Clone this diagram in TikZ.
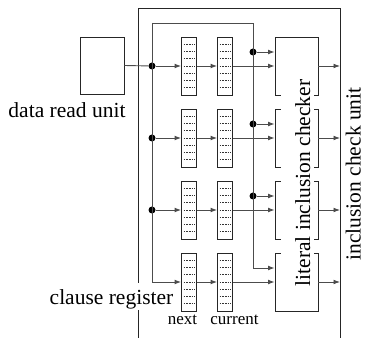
\documentclass[tikz,border=0pt]{standalone}
\usepackage{fontspec}
\setmainfont{Liberation Serif}
\newfontfamily\diagserif{Liberation Serif}
\usetikzlibrary{arrows.meta,calc}
\begin{document}
\begin{tikzpicture}[x=1pt,y=1pt,
  conn/.style={draw=black!70, line width=0.9pt},
  arr/.style={conn, -{Latex[length=6.5pt,width=4.8pt]}},
  frame/.style={draw=black!85, line width=0.8pt},
  regdots/.style={draw=black!80, line width=0.5pt, dash pattern=on 1.6pt off 1.1pt},
  reg/.style={draw=black!85, line width=0.8pt, minimum width=15pt, minimum height=58pt, inner sep=0pt,
    path picture={\foreach \k in {1,...,7}{\draw[regdots]
      ($(path picture bounding box.north west)!\k/8!(path picture bounding box.south west)+(2,0)$) --
      ($(path picture bounding box.north east)!\k/8!(path picture bounding box.south east)+(-2,0)$);}}},
  chk/.style={draw=black!85, line width=0.8pt, minimum width=43pt, minimum height=58pt, inner sep=0pt},
  unitbox/.style={draw=black!85, line width=0.8pt, minimum width=44pt, minimum height=57pt, inner sep=0pt},
  dot/.style={circle, fill=black, inner sep=0pt, minimum size=7pt},
  big/.style={font=\diagserif\fontsize{21.5}{24}\selectfont, inner sep=0pt},
  small/.style={font=\diagserif\fontsize{17}{20}\selectfont, inner sep=0pt},
]
\useasboundingbox (0,0) rectangle (365,338);

% outer frame of the inclusion check unit
\draw[frame] (138,0) -- (138,330) -- (340,330) -- (340,0);
\coordinate (R) at (340,0);

% data read unit
\node[unitbox] (dru) at (102,272.5) {};
\node[big, anchor=base] (drulabel) at (67,220.5) {data read unit};

% rows
\foreach \i/\y in {1/272,2/200,3/128,4/56}{
  \node[reg] (n\i) at (189,\y) {};
  \node[reg] (c\i) at (225,\y) {};
  \node[chk] (k\i) at (296.5,\y) {};
}

% bus coordinates
\coordinate (tl) at (152,315);
\coordinate (tr) at (253,315);
\coordinate (f4) at ($(k4.west)+(0,14)$);
\foreach \i/\y in {1/272,2/200,3/128}{
  \node[dot] (b\i) at (152,\y) {};
  \node[dot] (e\i) at (253,\y+14) {};
}

% connectors
\draw[conn] (dru.east) -- (b1);
\draw[arr] (tl) |- (n4.west);
\draw[arr] (tl) -- (tr) |- (f4);
\foreach \i in {1,2,3}{
  \draw[arr] (b\i) -- (n\i.west);
  \draw[arr] (e\i) -- (e\i -| k\i.west);
}
\foreach \i in {1,2,3,4}{
  \draw[arr] (n\i.east) -- (c\i.west);
  \draw[arr] (c\i.east) -- (k\i.west);
  \draw[arr] (k\i.east) -- (k\i.east -| R);
}

% label over the checkers
\fill[white] (281,46) rectangle (314,264);
\node[big, rotate=90, anchor=base] (lic) at (310,155) {literal inclusion checker};
\node[big, rotate=90, anchor=base] (icu) at (360.5,164) {inclusion check unit};

% register labels
\node[big, anchor=base, fill=white, text height=20.5pt, inner xsep=1pt, inner ysep=1pt] (cr) at (111.5,33.5) {clause register};
\node[small, anchor=base] (nx) at (182.5,13) {next};
\node[small, anchor=base] (cu) at (234.5,13) {current};
\end{tikzpicture}
\end{document}
